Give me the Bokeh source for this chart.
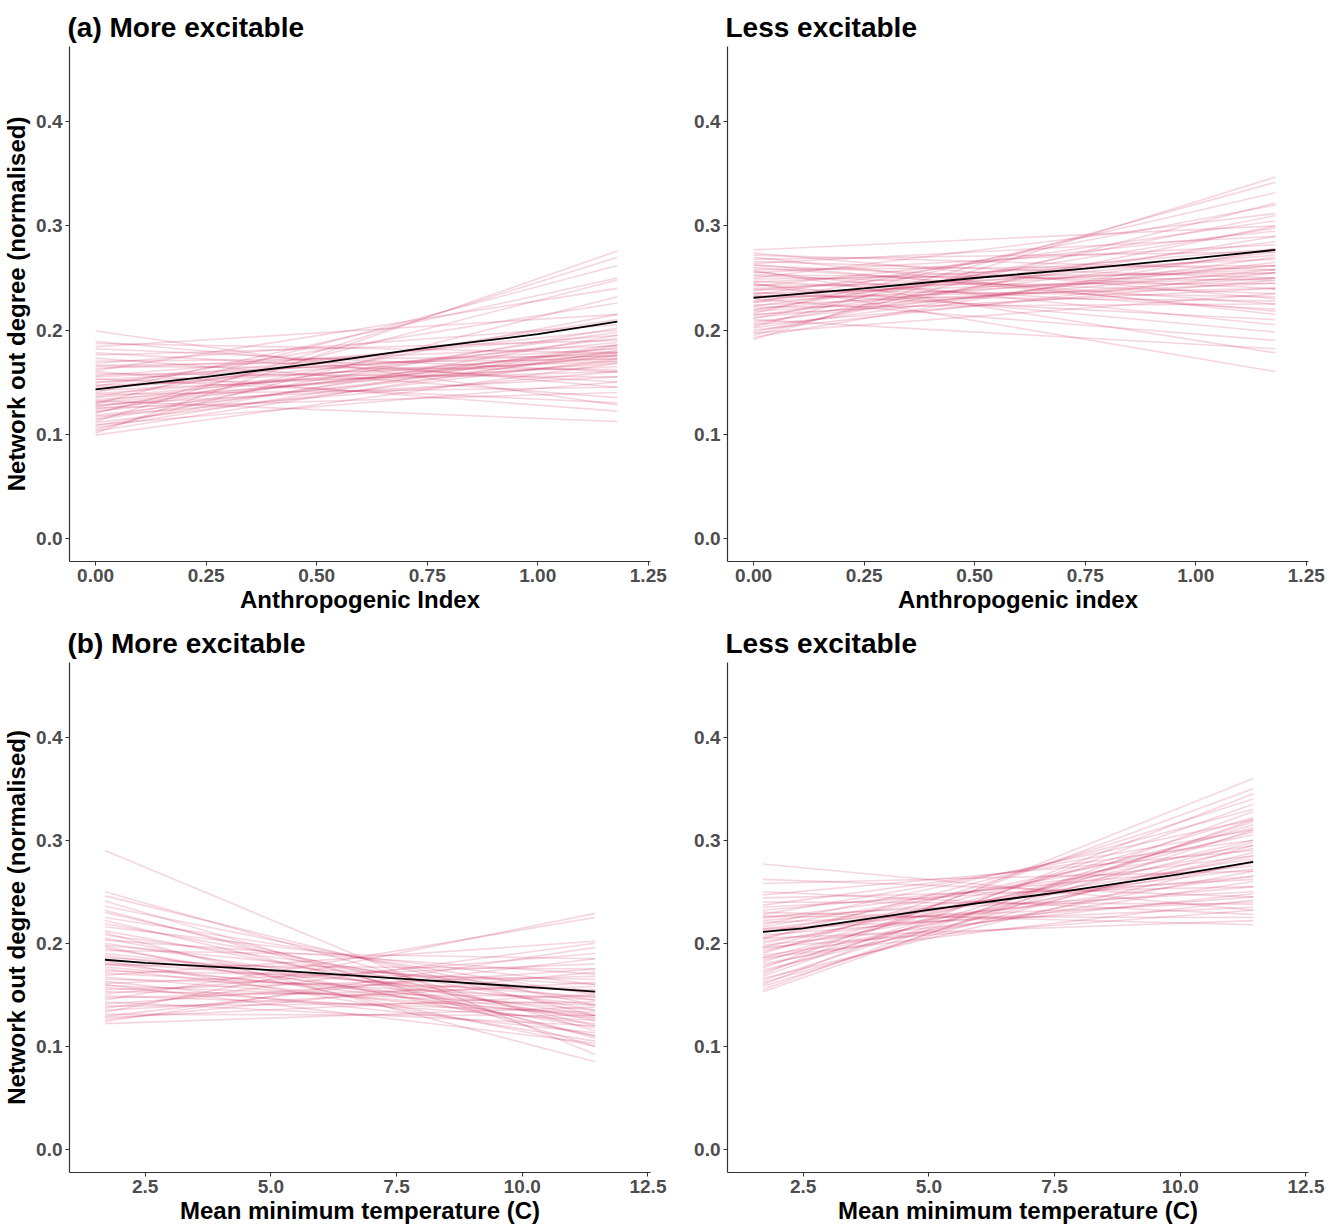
from bokeh.plotting import figure
from bokeh.layouts import column, row
from bokeh.models import Range1d, FixedTicker, NumeralTickFormatter, ColumnDataSource
from bokeh.embed import file_html
from bokeh.resources import INLINE

# ---------------- data ----------------
# x extents of the fitted lines
anthro_x = [0.0, 1.18]
temp_x = [1.7, 11.45]

# (a) More excitable - Anthropogenic Index: posterior draws (start, end)
a_more_start = [0.199, 0.189, 0.187, 0.184, 0.182, 0.178, 0.176, 0.173, 0.170, 0.168,
                0.166, 0.165, 0.163, 0.161, 0.160, 0.158, 0.156, 0.155, 0.153, 0.152,
                0.150, 0.149, 0.147, 0.146, 0.145, 0.143, 0.142, 0.140, 0.139, 0.138,
                0.136, 0.135, 0.133, 0.132, 0.131, 0.130, 0.129, 0.128, 0.127, 0.126,
                0.125, 0.124, 0.122, 0.121, 0.120, 0.118, 0.117, 0.115, 0.114, 0.112,
                0.111, 0.109, 0.108, 0.106, 0.104, 0.103, 0.101, 0.099]
a_more_end = [0.128, 0.145, 0.178, 0.215, 0.160, 0.150, 0.190, 0.135, 0.175, 0.205,
              0.172, 0.162, 0.185, 0.240, 0.122, 0.155, 0.195, 0.178, 0.130, 0.182,
              0.170, 0.200, 0.160, 0.226, 0.176, 0.188, 0.165, 0.250, 0.173, 0.145,
              0.210, 0.180, 0.168, 0.112, 0.192, 0.175, 0.262, 0.155, 0.178, 0.198,
              0.140, 0.183, 0.170, 0.215, 0.248, 0.176, 0.160, 0.202, 0.186, 0.270,
              0.172, 0.150, 0.195, 0.185, 0.232, 0.180, 0.276, 0.168]
a_more_mean_x = [0.0, 0.25, 0.5, 0.75, 1.0, 1.18]
a_more_mean_y = [0.143, 0.155, 0.168, 0.183, 0.196, 0.208]

# Less excitable - Anthropogenic index
a_less_start = [0.277, 0.274, 0.272, 0.270, 0.268, 0.266, 0.264, 0.262, 0.260, 0.258,
                0.256, 0.255, 0.253, 0.252, 0.250, 0.249, 0.247, 0.246, 0.245, 0.243,
                0.242, 0.240, 0.239, 0.238, 0.236, 0.235, 0.234, 0.232, 0.231, 0.230,
                0.228, 0.227, 0.226, 0.224, 0.223, 0.222, 0.220, 0.219, 0.218, 0.216,
                0.215, 0.214, 0.212, 0.211, 0.210, 0.208, 0.206, 0.205, 0.203, 0.202,
                0.200, 0.198, 0.197, 0.195, 0.193, 0.191, 0.244, 0.257, 0.263, 0.233]
a_less_end = [0.300, 0.230, 0.258, 0.215, 0.275, 0.250, 0.290, 0.240, 0.225, 0.262,
              0.205, 0.282, 0.248, 0.235, 0.312, 0.255, 0.220, 0.268, 0.160, 0.245,
              0.295, 0.258, 0.232, 0.278, 0.210, 0.250, 0.305, 0.262, 0.240, 0.190,
              0.272, 0.255, 0.320, 0.245, 0.285, 0.225, 0.262, 0.298, 0.250, 0.332,
              0.240, 0.275, 0.258, 0.310, 0.182, 0.265, 0.290, 0.248, 0.342, 0.270,
              0.255, 0.300, 0.235, 0.322, 0.278, 0.347, 0.198, 0.178, 0.218, 0.228]
a_less_mean_x = [0.0, 0.25, 0.5, 0.75, 1.0, 1.18]
a_less_mean_y = [0.231, 0.240, 0.250, 0.259, 0.269, 0.277]

# (b) More excitable - Mean minimum temperature
t_more_start = [0.290, 0.250, 0.246, 0.241, 0.236, 0.230, 0.225, 0.222, 0.219, 0.216,
                0.212, 0.208, 0.205, 0.203, 0.200, 0.198, 0.195, 0.193, 0.190, 0.188,
                0.186, 0.183, 0.181, 0.179, 0.177, 0.175, 0.173, 0.171, 0.169, 0.167,
                0.165, 0.163, 0.161, 0.159, 0.157, 0.155, 0.153, 0.151, 0.149, 0.147,
                0.145, 0.143, 0.141, 0.139, 0.137, 0.135, 0.133, 0.131, 0.129, 0.128,
                0.126, 0.124, 0.122, 0.210, 0.232, 0.197, 0.160, 0.180]
t_more_end = [0.092, 0.115, 0.130, 0.100, 0.140, 0.120, 0.150, 0.110, 0.135, 0.160,
              0.125, 0.145, 0.110, 0.170, 0.130, 0.152, 0.118, 0.185, 0.140, 0.128,
              0.160, 0.105, 0.148, 0.175, 0.135, 0.122, 0.165, 0.145, 0.202, 0.130,
              0.155, 0.113, 0.180, 0.140, 0.125, 0.168, 0.148, 0.190, 0.133, 0.158,
              0.225, 0.120, 0.175, 0.143, 0.200, 0.162, 0.229, 0.130, 0.185, 0.150,
              0.172, 0.196, 0.138, 0.085, 0.108, 0.100, 0.103, 0.127]
t_more_mean_x = [1.7, 2.5, 5.0, 7.5, 10.0, 11.45]
t_more_mean_y = [0.184, 0.181, 0.174, 0.166, 0.158, 0.153]

# Less excitable - Mean minimum temperature
t_less_start = [0.277, 0.262, 0.258, 0.250, 0.247, 0.244, 0.240, 0.237, 0.235, 0.232,
                0.230, 0.228, 0.226, 0.224, 0.222, 0.220, 0.218, 0.216, 0.214, 0.212,
                0.210, 0.208, 0.206, 0.204, 0.202, 0.200, 0.198, 0.196, 0.194, 0.192,
                0.190, 0.188, 0.186, 0.184, 0.182, 0.180, 0.178, 0.176, 0.174, 0.172,
                0.170, 0.168, 0.166, 0.164, 0.162, 0.160, 0.158, 0.155, 0.153, 0.186,
                0.196, 0.205, 0.214, 0.226]
t_less_end = [0.232, 0.245, 0.270, 0.228, 0.290, 0.255, 0.238, 0.300, 0.262, 0.275,
              0.218, 0.310, 0.250, 0.285, 0.265, 0.240, 0.320, 0.295, 0.272, 0.255,
              0.305, 0.245, 0.282, 0.330, 0.265, 0.292, 0.248, 0.312, 0.278, 0.300,
              0.340, 0.260, 0.308, 0.285, 0.322, 0.270, 0.298, 0.350, 0.288, 0.315,
              0.360, 0.335, 0.280, 0.318, 0.295, 0.345, 0.310, 0.328, 0.320, 0.242,
              0.232, 0.222, 0.235, 0.225]
t_less_mean_x = [1.7, 2.5, 5.0, 7.5, 10.0, 11.45]
t_less_mean_y = [0.211, 0.2145, 0.2325, 0.249, 0.267, 0.279]

anthro_ticks = [0.0, 0.25, 0.5, 0.75, 1.0, 1.25]
temp_ticks = [2.5, 5.0, 7.5, 10.0, 12.5]
y_ticks = [0.0, 0.1, 0.2, 0.3, 0.4]

# ---------------- styling ----------------
FONT = "Liberation Sans"
DRAW_COLOR = "#C81E50"
DRAW_ALPHA = 0.18


def make_panel(title, xlabel, show_ylabel, xr, xticks, xfmt, xext, starts, ends,
               mean_x, mean_y, left, top, bottom, right, frame_h):
    p = figure(output_backend="svg", toolbar_location=None,
               frame_width=581, frame_height=frame_h,
               min_border_left=left, min_border_right=right,
               min_border_top=top, min_border_bottom=bottom,
               x_range=Range1d(*xr), y_range=Range1d(-0.0225, 0.4725),
               title=title)
    p.title.text_font = FONT
    p.title.text_font_size = "28px"
    p.title.text_font_style = "bold"
    p.title.text_color = "black"
    p.title.align = "left"
    p.title.offset = -2
    p.title.standoff = 8
    p.outline_line_color = None
    p.background_fill_color = "white"
    p.border_fill_color = "white"
    p.grid.visible = False

    for ax in (p.xaxis[0], p.yaxis[0]):
        ax.axis_line_color = "#333333"
        ax.axis_line_width = 1.2
        ax.major_tick_line_color = "#333333"
        ax.major_tick_in = 0
        ax.major_tick_out = 4
        ax.minor_tick_line_color = None
        ax.major_label_text_font = FONT
        ax.major_label_text_font_size = "19px"
        ax.major_label_text_font_style = "bold"
        ax.major_label_text_color = "#4D4D4D"
        ax.major_label_standoff = 3
        ax.axis_label_text_font = FONT
        ax.axis_label_text_font_size = "24px"
        ax.axis_label_text_font_style = "bold"
        ax.axis_label_text_color = "black"

    p.xaxis[0].ticker = FixedTicker(ticks=xticks)
    p.xaxis[0].formatter = NumeralTickFormatter(format=xfmt)
    p.xaxis[0].axis_label = xlabel
    p.xaxis[0].axis_label_standoff = 1
    p.yaxis[0].ticker = FixedTicker(ticks=y_ticks)
    p.yaxis[0].formatter = NumeralTickFormatter(format="0.0")
    p.yaxis[0].axis_label_standoff = 3
    if show_ylabel:
        p.yaxis[0].axis_label = "Network out degree (normalised)"

    src = ColumnDataSource(dict(
        xs=[list(xext) for _ in starts],
        ys=[[s, e] for s, e in zip(starts, ends)],
    ))
    p.multi_line(xs="xs", ys="ys", source=src, line_color=DRAW_COLOR,
                 line_alpha=DRAW_ALPHA, line_width=1.6)
    p.line(mean_x, mean_y, line_color="black", line_width=1.8)
    return p


p1 = make_panel("(a) More excitable", "Anthropogenic Index", True,
                (-0.059, 1.255), anthro_ticks, "0.00", anthro_x,
                a_more_start, a_more_end, a_more_mean_x, a_more_mean_y,
                left=67, top=46, bottom=55, right=20, frame_h=515)
p2 = make_panel("Less excitable", "Anthropogenic index", False,
                (-0.059, 1.255), anthro_ticks, "0.00", anthro_x,
                a_less_start, a_less_end, a_less_mean_x, a_less_mean_y,
                left=57, top=46, bottom=55, right=25, frame_h=515)
p3 = make_panel("(b) More excitable", "Mean minimum temperature (C)", True,
                (0.995, 12.55), temp_ticks, "0.0", temp_x,
                t_more_start, t_more_end, t_more_mean_x, t_more_mean_y,
                left=67, top=46, bottom=55, right=20, frame_h=510)
p4 = make_panel("Less excitable", "Mean minimum temperature (C)", False,
                (0.995, 12.55), temp_ticks, "0.0", temp_x,
                t_less_start, t_less_end, t_less_mean_x, t_less_mean_y,
                left=57, top=46, bottom=55, right=25, frame_h=510)

layout = column(row(p1, p2), row(p3, p4))
open("out.html", "w").write(file_html(layout, INLINE))
